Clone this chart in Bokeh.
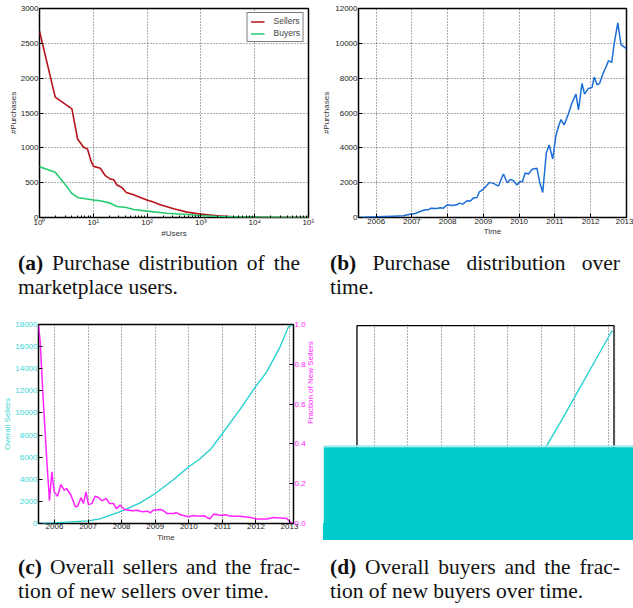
import math
from bokeh.plotting import figure
from bokeh.models import Range1d, LinearAxis, FixedTicker, Div, NumeralTickFormatter
from bokeh.layouts import column, row
from bokeh.embed import file_html
from bokeh.resources import INLINE

# ---------------- data: (a) purchase distribution of users ----------------
a_sellers_users = [1, 1.96, 4.0, 5.1, 6.6, 7.8, 9.0, 10.1, 13.5, 16.7, 20.7, 24, 27.5, 34, 41,
                   56, 75, 99, 123, 176, 312, 552, 977, 2000, 4100, 17000, 100000]
a_sellers_purch = [2674, 1728, 1560, 1128, 1008, 984, 816, 734, 706, 600, 552, 542, 466, 432, 360,
                   326, 288, 250, 230, 182, 125, 77, 48, 24, 10, 2, 0]
a_buyers_users = [1, 1.96, 2.8, 4.0, 5.1, 7.1, 10.1, 13.5, 20.7, 27.5, 41, 56, 99, 234, 552, 977,
                  2000, 9600, 100000]
a_buyers_purch = [730, 648, 504, 346, 288, 269, 250, 240, 206, 158, 144, 115, 91, 62, 43, 29,
                  14, 5, 0]
a_xticks = [1, 10, 100, 1000, 10000, 100000]
a_xtick_labels = ["10\u2070", "10\u00b9", "10\u00b2", "10\u00b3", "10\u2074", "10\u2075"]
a_yticks = [0, 500, 1000, 1500, 2000, 2500, 3000]

# ---------------- data: (b) purchases over time ----------------
b_time = [2005.5, 2006.01, 2006.48, 2006.76, 2006.95, 2007.09, 2007.23, 2007.37, 2007.46, 2007.53,
          2007.7, 2007.79, 2007.88, 2007.99, 2008.12, 2008.26, 2008.33, 2008.42, 2008.54, 2008.63,
          2008.72, 2008.82, 2008.89, 2009.0, 2009.17, 2009.28, 2009.42, 2009.56, 2009.67, 2009.75,
          2009.84, 2009.94, 2010.03, 2010.09, 2010.17, 2010.26, 2010.36, 2010.5, 2010.57, 2010.66,
          2010.76, 2010.84, 2010.94, 2011.03, 2011.1, 2011.17, 2011.26, 2011.38, 2011.48, 2011.59,
          2011.66, 2011.76, 2011.83, 2011.94, 2012.04, 2012.1, 2012.18, 2012.25, 2012.36, 2012.43,
          2012.5, 2012.59, 2012.66, 2012.76, 2012.85, 2013.0]
b_purch = [0, 38, 77, 96, 192, 230, 346, 442, 442, 538,
           518, 557, 538, 730, 691, 730, 826, 768, 960, 941,
           1114, 1152, 1478, 1632, 2016, 1958, 1805, 2496, 1997, 2189,
           2112, 1862, 2074, 2054, 2554, 2496, 2765, 2822, 2054, 1440,
           3706, 4166, 3360, 4704, 5222, 5626, 5318, 5952, 6586, 7085,
           6182, 7699, 7085, 7411, 7469, 8064, 7622, 7699, 8333, 8640,
           9005, 8909, 9984, 11174, 9926, 9696]
b_yticks = [0, 2000, 4000, 6000, 8000, 10000, 12000]
years = [2006, 2007, 2008, 2009, 2010, 2011, 2012, 2013]

# ---------------- data: (c) overall sellers / fraction of new sellers ----------------
c_time_overall = [2005.52, 2006.0, 2007.0, 2007.35, 2008.0, 2008.55, 2009.0, 2009.55, 2010.0,
                  2010.32, 2010.67, 2011.0, 2011.51, 2012.0, 2012.32, 2012.72, 2012.97, 2013.12]
c_overall_sellers = [0, 60, 240, 420, 1115, 1870, 2714, 3980, 5125,
                     5820, 6785, 8140, 10250, 12420, 13720, 15980, 17790, 18000]
c_time_frac = [2005.52, 2005.57, 2005.67, 2005.77, 2005.85, 2005.92, 2005.99, 2006.09, 2006.19,
               2006.29, 2006.36, 2006.49, 2006.62, 2006.69, 2006.79, 2006.86, 2006.94, 2007.01,
               2007.11, 2007.21, 2007.31, 2007.41, 2007.54, 2007.64, 2007.76, 2007.84, 2007.96,
               2008.08, 2008.31, 2008.46, 2008.61, 2008.76, 2008.86, 2008.94, 2009.15, 2009.25,
               2009.35, 2009.55, 2009.63, 2009.75, 2010.0, 2010.14, 2010.34, 2010.46, 2010.62,
               2010.74, 2010.84, 2010.94, 2011.09, 2011.19, 2011.34, 2011.53, 2011.83, 2012.03,
               2012.33, 2012.52, 2012.82, 2012.92, 2013.02, 2013.1]
c_frac_new = [0.997, 0.92, 0.603, 0.318, 0.114, 0.26, 0.159, 0.137, 0.196,
              0.167, 0.176, 0.142, 0.084, 0.087, 0.131, 0.1, 0.159, 0.095,
              0.1, 0.137, 0.131, 0.114, 0.126, 0.1, 0.1, 0.075, 0.092,
              0.07, 0.064, 0.067, 0.059, 0.062, 0.054, 0.067, 0.07, 0.064,
              0.05, 0.05, 0.055, 0.044, 0.034, 0.04, 0.037, 0.039, 0.023,
              0.047, 0.045, 0.04, 0.044, 0.039, 0.037, 0.037, 0.03, 0.023,
              0.023, 0.03, 0.027, 0.025, 0.008, 0.0]
c_yticks = [0, 2000, 4000, 6000, 8000, 10000, 12000, 14000, 16000, 18000]
c_rticks = [0.0, 0.2, 0.4, 0.6, 0.8, 1.0]

# ---------------- data: (d) overall buyers (mostly hidden by the cyan block) ----------------
d_time = [2005.5, 2006.0, 2007.0, 2008.0, 2009.0, 2010.0, 2010.5, 2011.1, 2011.6, 2012.1,
          2012.6, 2013.1, 2013.13]
d_overall_buyers = [0, 200, 1500, 4000, 8500, 15000, 19500, 26400, 36500, 47000,
                    57500, 68000, 68000]
d_panel_x = [2005.49, 2013.17]
d_panel_y = [0, 70000]
d_block_x = [2004.49, 2013.75]
d_block_y = [0, 26945]
d_band_y = [26945, 27700]

captions = [
    ("(a)", "Purchase distribution of the", "marketplace users."),
    ("(b)", "Purchase distribution over", "time."),
    ("(c)", "Overall sellers and the frac-", "tion of new sellers over time."),
    ("(d)", "Overall buyers and the frac-", "tion of new buyers over time."),
]

# ---------------- styling helpers ----------------
FONT = "Liberation Sans"
FS = "8px"
RED = "#b8121c"
GREEN = "#22cc70"
BLUE = "#1c6ed6"
CYAN = "#1fcfcf"
CYAN_TXT = "#3ad6d6"
MAGENTA = "#ff22ff"
BLOCK = "#00cccc"


def base_style(p):
    p.outline_line_color = "black"
    p.outline_line_width = 1.5
    p.background_fill_color = "white"
    p.border_fill_color = "white"
    for g in p.grid:
        g.grid_line_color = "#333333"
        g.grid_line_dash = "1 2"
        g.grid_line_width = 1
        g.grid_line_alpha = 0.8


def style_axis(ax, color="#222222", label_color="#333333", standoff=1, label_standoff=1):
    ax.axis_line_color = None
    ax.major_tick_in = 4
    ax.major_tick_out = 0
    ax.major_tick_line_color = "black"
    ax.minor_tick_in = 0
    ax.minor_tick_out = 0
    ax.minor_tick_line_color = None
    ax.major_label_text_font = FONT
    ax.major_label_text_font_size = FS
    ax.major_label_text_color = color
    ax.major_label_standoff = standoff
    ax.axis_label_text_font = FONT
    ax.axis_label_text_font_size = FS
    ax.axis_label_text_font_style = "normal"
    ax.axis_label_text_color = label_color
    ax.axis_label_standoff = label_standoff


# ---------------- (a) ----------------
pa = figure(width=318, height=245, x_axis_type="log", x_range=Range1d(1, 1e5),
            y_range=Range1d(0, 3000), output_backend="svg", toolbar_location=None,
            min_border_left=39, min_border_right=10, min_border_top=8, min_border_bottom=28)
pa.line(a_sellers_users, a_sellers_purch, line_color=RED, line_width=1.6, legend_label="Sellers")
pa.line(a_buyers_users, a_buyers_purch, line_color=GREEN, line_width=1.6, legend_label="Buyers")
minor_a = [m * 10 ** k for k in range(0, 5) for m in range(2, 10)]
pa.xaxis.ticker = FixedTicker(ticks=a_xticks, minor_ticks=minor_a)
pa.xaxis.major_label_overrides = dict(zip(a_xticks, a_xtick_labels))
pa.yaxis.ticker = FixedTicker(ticks=a_yticks)
pa.xaxis.axis_label = "#Users"
pa.yaxis.axis_label = "#Purchases"
base_style(pa)
style_axis(pa.xaxis[0], standoff=0, label_standoff=-1)
style_axis(pa.yaxis[0], standoff=1, label_standoff=0)
pa.xaxis.minor_tick_in = 2
pa.xaxis.minor_tick_line_color = "black"
lg = pa.legend[0]
lg.location = "top_right"
lg.margin = 4
lg.padding = 3
lg.spacing = 2
lg.glyph_width = 14
lg.glyph_height = 9
lg.label_height = 9
lg.label_standoff = 9
lg.label_text_font = FONT
lg.label_text_font_size = "8.5px"
lg.label_text_line_height = 1.0
lg.border_line_color = "black"
lg.border_line_width = 1
lg.background_fill_alpha = 1

# ---------------- (b) ----------------
pb = figure(width=315, height=245, x_range=Range1d(2005.505, 2013.004),
            y_range=Range1d(0, 12000), output_backend="svg", toolbar_location=None,
            min_border_left=40, min_border_right=7, min_border_top=8, min_border_bottom=28)
pb.line(b_time, b_purch, line_color=BLUE, line_width=1.5)
pb.xaxis.ticker = FixedTicker(ticks=years)
pb.yaxis.ticker = FixedTicker(ticks=b_yticks)
pb.xaxis.axis_label = "Time"
pb.yaxis.axis_label = "#Purchases"
base_style(pb)
style_axis(pb.xaxis[0], standoff=1, label_standoff=0)
style_axis(pb.yaxis[0], standoff=1, label_standoff=1)

# ---------------- (c) ----------------
pc = figure(width=322, height=245, x_range=Range1d(2005.523, 2013.119),
            y_range=Range1d(0, 18000), output_backend="svg", toolbar_location=None,
            min_border_left=38, min_border_right=29, min_border_top=24, min_border_bottom=22)
pc.extra_y_ranges = {"frac": Range1d(0, 1)}
pc.line(c_time_overall, c_overall_sellers, line_color=CYAN, line_width=1.3)
pc.line(c_time_frac, c_frac_new, line_color=MAGENTA, line_width=1.5, y_range_name="frac")
ax_r = LinearAxis(y_range_name="frac", axis_label="Fraction of New Sellers",
                  ticker=FixedTicker(ticks=c_rticks), formatter=NumeralTickFormatter(format="0.0"))
pc.add_layout(ax_r, "right")
pc.xaxis.ticker = FixedTicker(ticks=years)
pc.yaxis[0].ticker = FixedTicker(ticks=c_yticks)
pc.xaxis.axis_label = "Time"
pc.yaxis[0].axis_label = "Overall Sellers"
base_style(pc)
pc.ygrid.visible = False
style_axis(pc.xaxis[0], standoff=0, label_standoff=1)
style_axis(pc.yaxis[0], color=CYAN_TXT, label_color=CYAN_TXT, standoff=1, label_standoff=0)
style_axis(ax_r, color=MAGENTA, label_color=MAGENTA, standoff=1, label_standoff=2)
try:
    ax_r.axis_label_orientation = math.pi / 2
except Exception:
    pass

# ---------------- (d) ----------------
pd_ = figure(width=311, height=223, x_range=Range1d(d_block_x[0], d_block_x[1]),
             y_range=Range1d(0, 70400), output_backend="svg", toolbar_location=None,
             x_axis_location=None, y_axis_location=None,
             min_border_left=1, min_border_right=0, min_border_top=24, min_border_bottom=0)
pd_.outline_line_color = None
pd_.background_fill_color = "white"
pd_.border_fill_color = "white"
pd_.xgrid.ticker = FixedTicker(ticks=years)
pd_.xgrid.grid_line_color = "#333333"
pd_.xgrid.grid_line_dash = "1 2"
pd_.xgrid.grid_line_alpha = 0.8
pd_.ygrid.visible = False
pd_.quad(left=[d_panel_x[0]], right=[d_panel_x[1]], bottom=[d_panel_y[0]], top=[d_panel_y[1]],
         fill_color=None, line_color="black", line_width=1.3)
pd_.segment(x0=[d_panel_x[1]], y0=[d_panel_y[0]], x1=[d_panel_x[1]], y1=[d_panel_y[1]],
            line_color="#555555", line_width=2)
pd_.line(d_time, d_overall_buyers, line_color=CYAN, line_width=1.3)
pd_.quad(left=[d_block_x[0]], right=[d_block_x[1]], bottom=[d_band_y[0]], top=[d_band_y[1]],
         fill_color="#aaeaea", line_color=None)
pd_.quad(left=[d_block_x[0]], right=[d_block_x[1]], bottom=[d_block_y[0]], top=[d_block_y[1]],
         fill_color=BLOCK, line_color=None)

# continuation of the cyan block below the (d) frame
d_band = Div(text=f'<div style="margin:0 0 0 1px;width:310px;height:17px;background:{BLOCK};"></div>',
             width=311, height=22, margin=(0, 0, 0, 0))

# ---------------- captions ----------------
CAP = ("font-family:'Liberation Serif','Times New Roman',serif;font-size:21.5px;"
       "line-height:24px;color:#111111;")


def caption(cap, width, height, pad_left, pad_top, line_w):
    tag, l1, l2 = cap
    html = (f'<div style="{CAP}padding:{pad_top}px 0 0 {pad_left}px;margin:0;">'
            f'<div style="width:{line_w}px;text-align:justify;text-align-last:justify;">'
            f'<b>{tag}</b> {l1}</div>'
            f'<div style="width:{line_w + 20}px;text-align:left;">{l2}</div></div>')
    return Div(text=html, width=width, height=height, margin=(0, 0, 0, 0))


cap_a = caption(captions[0], 318, 55, 18, 6, 282)
cap_b = caption(captions[1], 315, 55, 12, 6, 290)
cap_c = caption(captions[2], 322, 63, 18, 10, 282)
cap_d = caption(captions[3], 311, 63, 8, 10, 290)

layout = column(row(pa, pb), row(cap_a, cap_b), row(pc, column(pd_, d_band)), row(cap_c, cap_d))

open("out.html", "w").write(file_html(layout, INLINE))
